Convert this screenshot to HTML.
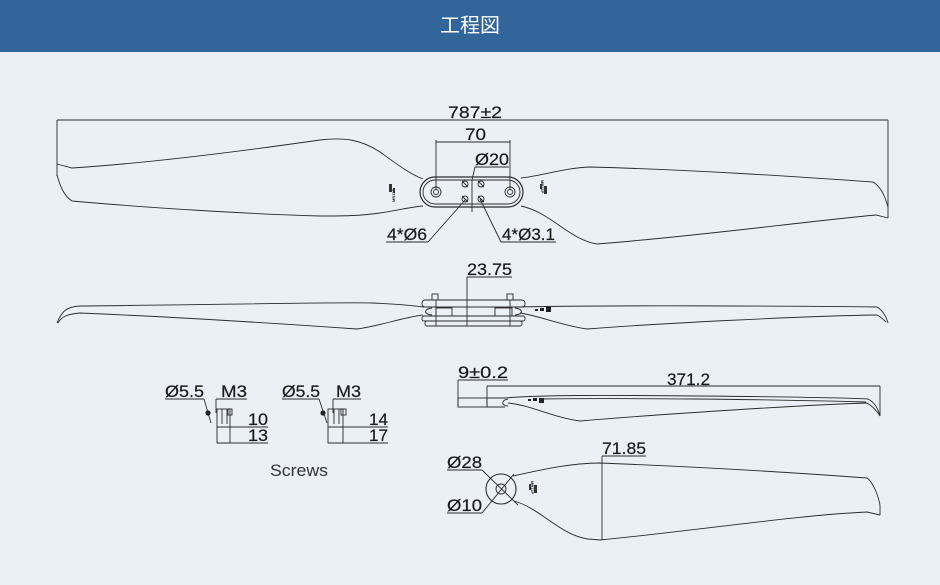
<!DOCTYPE html>
<html>
<head>
<meta charset="utf-8">
<style>
  html,body{margin:0;padding:0;}
  body{width:940px;height:585px;background:#eaf0f6;overflow:hidden;position:relative;font-family:"Liberation Sans","Noto Sans CJK JP",sans-serif;}
  .hdr{position:absolute;left:0;top:0;width:940px;height:52px;background:#326599;color:#fff;font-size:20px;text-align:center;line-height:52px;font-family:"Liberation Sans","Noto Sans CJK JP",sans-serif;}
  svg{position:absolute;left:0;top:0;}
  .l{fill:none;stroke:#2b2b2b;stroke-width:0.9;}
  .t{font-family:"Liberation Sans",sans-serif;font-size:17px;fill:#1a1a1a;stroke:#1a1a1a;stroke-width:0.2;}
  .s{font-family:"Liberation Sans",sans-serif;font-size:4px;fill:#222;font-weight:bold;}
</style>
</head>
<body>
<div class="hdr">工程図</div>
<svg width="940" height="585" viewBox="0 0 940 585" xmlns="http://www.w3.org/2000/svg">
  <!-- ===== TOP VIEW ===== -->
  <line class="l" x1="57" y1="120" x2="888" y2="120"/>
  <line class="l" x1="57" y1="120" x2="57" y2="176"/>
  <line class="l" x1="888" y1="120" x2="888" y2="218"/>
  <text class="t" x="448" y="118" textLength="54" lengthAdjust="spacingAndGlyphs">787±2</text>

  <path class="l" d="M57,164 L72,168 C150,163 250,150 320,140 C345,137 362,140 380,152 C398,165 410,174 423,179"/>
  <path class="l" d="M57,175 C60,186 64,196 72,201 C150,208 250,214 320,216 C340,216 360,216 380,213 C400,210 410,207 423,206"/>
  <path class="l" d="M521,178 C545,175 565,168 590,167 C700,170 800,177 873,182 C880,186 885,196 888,207"/>
  <path class="l" d="M521,206 C550,212 570,240 597,244 C700,236 800,222 876,215 L888,218"/>

  <rect class="l" x="420" y="177" width="103" height="30" rx="15" style="stroke-width:1.2"/>
  <rect class="l" x="423" y="180" width="97" height="24" rx="12"/>
  <circle class="l" cx="436" cy="192" r="5"/>
  <circle class="l" cx="436" cy="192" r="2.5"/>
  <circle class="l" cx="510" cy="192" r="5"/>
  <circle class="l" cx="510" cy="192" r="2.5"/>
  <circle class="l" cx="465" cy="184" r="3"/>
  <circle class="l" cx="481" cy="184" r="3"/>
  <circle class="l" cx="465" cy="199" r="3"/>
  <circle class="l" cx="481" cy="199" r="3"/>
  <path class="l" d="M462,181 L468,187 M478,181 L484,187 M462,196 L468,202 M478,196 L484,202"/>

  <line class="l" x1="436" y1="142" x2="510" y2="142"/>
  <line class="l" x1="436" y1="140" x2="436" y2="190"/>
  <line class="l" x1="510" y1="140" x2="510" y2="190"/>
  <text class="t" x="465" y="140" textLength="21" lengthAdjust="spacingAndGlyphs">70</text>
  <line class="l" x1="475" y1="167" x2="509" y2="167"/>
  <polyline class="l" points="475,167 472,180 472,212"/>
  <text class="t" x="475" y="165" textLength="34" lengthAdjust="spacingAndGlyphs">Ø20</text>
  <line class="l" x1="386" y1="242" x2="428" y2="242"/>
  <line class="l" x1="428" y1="242" x2="466" y2="199"/>
  <text class="t" x="387" y="240" textLength="40" lengthAdjust="spacingAndGlyphs">4*Ø6</text>
  <line class="l" x1="501" y1="242" x2="556" y2="242"/>
  <line class="l" x1="501" y1="242" x2="480" y2="199"/>
  <text class="t" x="502" y="240" textLength="53" lengthAdjust="spacingAndGlyphs">4*Ø3.1</text>

  <text class="s" transform="translate(395,202) rotate(-90)">MR11P</text>
  <rect x="389" y="184" width="3" height="8" fill="#333"/>
  <rect x="393" y="188" width="2" height="5" fill="#333"/>
  <text class="s" transform="translate(541,180) rotate(90)">MR11P</text>
  <rect x="544" y="186" width="3" height="8" fill="#333"/>
  <rect x="540" y="184" width="2" height="5" fill="#333"/>

  <!-- ===== SIDE VIEW ===== -->
  <path class="l" d="M57,323 C62,311 66,307 80,306 C200,305 330,302 373,303 C395,304 410,305 424,307"/>
  <path class="l" d="M58,323 C62,316 68,314 80,313 C200,318 300,325 357,329 C380,326 400,318 423,315"/>
  <path class="l" d="M518,307 C600,305 800,306 877,307 C882,310 886,316 888,323"/>
  <path class="l" d="M520,313 C540,316 560,325 587,329 C650,324 800,316 877,315 C881,317 884,320 886,322"/>
  <rect x="535" y="309" width="3" height="2" fill="#222"/>
  <rect x="540" y="308" width="4" height="3" fill="#222"/>
  <rect x="546" y="307" width="5" height="5" fill="#222"/>

  <rect class="l" x="422" y="300" width="103" height="7" rx="3"/>
  <rect class="l" x="422" y="316" width="103" height="5" rx="2"/>
  <rect class="l" x="425" y="321" width="97" height="5" rx="2"/>
  <rect class="l" x="436" y="308" width="16" height="8"/>
  <rect class="l" x="495" y="308" width="17" height="8"/>
  <path class="l" d="M432,308 C424,309 423,314 432,315"/>
  <path class="l" d="M515,308 C523,309 524,314 515,315"/>
  <rect class="l" x="432" y="294" width="6" height="6"/>
  <rect class="l" x="507" y="294" width="6" height="6"/>
  <line class="l" x1="436" y1="300" x2="436" y2="326"/>
  <line class="l" x1="510" y1="300" x2="510" y2="326"/>
  <line class="l" x1="467" y1="277" x2="467" y2="326"/>
  <line class="l" x1="467" y1="277" x2="512" y2="277"/>
  <text class="t" x="467" y="275" textLength="45" lengthAdjust="spacingAndGlyphs">23.75</text>

  <!-- ===== SCREWS ===== -->
  <rect class="l" x="217" y="409" width="13" height="34"/>
  <rect class="l" x="228" y="409" width="4" height="6"/>
  <line class="l" x1="222" y1="409" x2="222" y2="424"/>
  <line class="l" x1="227" y1="409" x2="227" y2="424"/>
  <line class="l" x1="217" y1="427" x2="268" y2="427"/>
  <line class="l" x1="217" y1="443" x2="268" y2="443"/>
  <line class="l" x1="165" y1="399" x2="204" y2="399"/>
  <line class="l" x1="204" y1="399" x2="211" y2="423"/>
  <circle cx="208" cy="413" r="2.6" fill="#222"/>
  <line class="l" x1="216" y1="399" x2="247" y2="399"/>
  <line class="l" x1="216" y1="399" x2="216" y2="413"/>
  <text class="t" x="165" y="397" textLength="39" lengthAdjust="spacingAndGlyphs">Ø5.5</text>
  <text class="t" x="221" y="397" textLength="26" lengthAdjust="spacingAndGlyphs">M3</text>
  <text class="t" x="248" y="425" textLength="20" lengthAdjust="spacingAndGlyphs">10</text>
  <text class="t" x="248" y="441" textLength="20" lengthAdjust="spacingAndGlyphs">13</text>

  <rect class="l" x="328" y="409" width="15" height="34"/>
  <rect class="l" x="341" y="409" width="5" height="6"/>
  <line class="l" x1="334" y1="409" x2="334" y2="424"/>
  <line class="l" x1="339" y1="409" x2="339" y2="424"/>
  <line class="l" x1="328" y1="427" x2="388" y2="427"/>
  <line class="l" x1="328" y1="443" x2="388" y2="443"/>
  <line class="l" x1="282" y1="399" x2="319" y2="399"/>
  <line class="l" x1="319" y1="399" x2="327" y2="423"/>
  <circle cx="323" cy="413" r="2.6" fill="#222"/>
  <line class="l" x1="333" y1="399" x2="361" y2="399"/>
  <line class="l" x1="333" y1="399" x2="333" y2="413"/>
  <text class="t" x="282" y="397" textLength="38" lengthAdjust="spacingAndGlyphs">Ø5.5</text>
  <text class="t" x="336" y="397" textLength="25" lengthAdjust="spacingAndGlyphs">M3</text>
  <text class="t" x="369" y="425" textLength="19" lengthAdjust="spacingAndGlyphs">14</text>
  <text class="t" x="369" y="441" textLength="19" lengthAdjust="spacingAndGlyphs">17</text>

  <text x="270" y="476" font-family="Liberation Sans, sans-serif" font-size="17" fill="#333" textLength="58" lengthAdjust="spacingAndGlyphs">Screws</text>

  <!-- ===== BLADE SIDE VIEW (bottom) ===== -->
  <line class="l" x1="458" y1="380" x2="508" y2="380"/>
  <line class="l" x1="458" y1="380" x2="458" y2="407"/>
  <text class="t" x="458" y="378" textLength="50" lengthAdjust="spacingAndGlyphs">9±0.2</text>
  <rect class="l" x="458" y="398" width="29" height="9"/>
  <path class="l" d="M487,398 L505,398 M487,407 L505,407"/>
  <path class="l" d="M508,399 C501,400 501,406 508,406"/>
  <line class="l" x1="487" y1="386" x2="880" y2="386"/>
  <line class="l" x1="487" y1="386" x2="487" y2="407"/>
  <line class="l" x1="880" y1="386" x2="880" y2="416"/>
  <text class="t" x="667" y="385" textLength="43" lengthAdjust="spacingAndGlyphs">371.2</text>
  <path class="l" d="M505,398 C540,395 600,395 700,396 C800,397 850,398 868,399 C874,402 878,408 880,416"/>
  <path class="l" d="M540,399 C620,398 760,399 866,402"/>
  <path class="l" d="M508,403 C530,405 555,418 580,421 C650,415 800,405 867,403 C872,406 877,411 880,416"/>
  <rect x="528" y="399" width="3" height="2" fill="#222"/>
  <rect x="533" y="398" width="4" height="3" fill="#222"/>
  <rect x="539" y="398" width="5" height="5" fill="#222"/>

  <!-- ===== BLADE TOP VIEW (bottom) ===== -->
  <circle class="l" cx="501" cy="489" r="15" style="stroke-width:1.1"/>
  <circle class="l" cx="501" cy="489" r="5"/>
  <line class="l" x1="482" y1="470" x2="518" y2="505"/>
  <line class="l" x1="482" y1="513" x2="514" y2="474"/>
  <line class="l" x1="447" y1="470" x2="482" y2="470"/>
  <line class="l" x1="447" y1="513" x2="482" y2="513"/>
  <text class="t" x="447" y="468" textLength="35" lengthAdjust="spacingAndGlyphs">Ø28</text>
  <text class="t" x="447" y="511" textLength="35" lengthAdjust="spacingAndGlyphs">Ø10</text>
  <path class="l" d="M513,476 C540,470 570,463 600,463 C700,467 800,473 867,478 C873,482 878,495 880,505 L880,515"/>
  <path class="l" d="M514,501 C540,508 560,535 588,539 L600,540 C700,530 800,515 867,512 L880,515"/>
  <line class="l" x1="602" y1="456" x2="602" y2="540"/>
  <line class="l" x1="602" y1="456" x2="646" y2="456"/>
  <text class="t" x="602" y="454" textLength="44" lengthAdjust="spacingAndGlyphs">71.85</text>
  <text class="s" transform="translate(531,481) rotate(90)">MR11P</text>
  <rect x="534" y="485" width="3" height="8" fill="#333"/>
  <rect x="529" y="484" width="2" height="6" fill="#333"/>
</svg>
</body>
</html>
